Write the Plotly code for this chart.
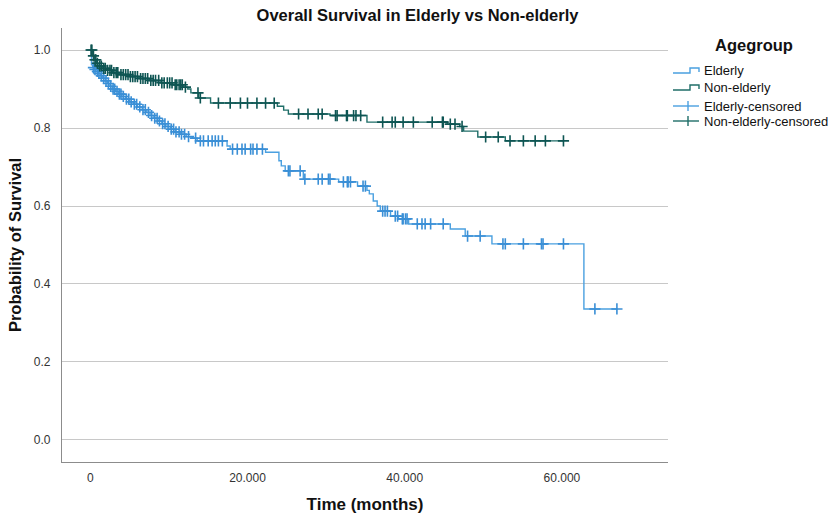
import numpy as np
import plotly.graph_objects as go

# Kaplan-Meier step data: event times (months) and survival after each event
elderly_t = [0.0, 0.15, 0.3, 0.5, 0.7, 1.0, 1.3, 1.6, 1.9, 2.2, 2.5, 2.8, 3.2, 3.6, 4.0,
             4.5, 5.0, 5.5, 6.0, 6.6, 7.1, 7.6, 8.1, 8.6, 9.1, 9.6, 10.2, 10.8, 11.4,
             12.2, 13.0, 13.6, 17.4, 17.8, 22.3, 24.0, 24.3, 24.8, 27.1, 31.6, 34.0,
             35.2, 35.5, 36.0, 36.5, 36.9, 38.2, 39.2, 40.5, 45.8, 47.7, 51.1, 62.8]
elderly_s = [1.0, 0.962, 0.955, 0.950, 0.945, 0.940, 0.934, 0.928, 0.921, 0.914, 0.907,
             0.900, 0.894, 0.887, 0.881, 0.874, 0.867, 0.861, 0.854, 0.847, 0.840, 0.832,
             0.825, 0.818, 0.811, 0.804, 0.797, 0.790, 0.784, 0.778, 0.774, 0.767, 0.754,
             0.746, 0.738, 0.716, 0.703, 0.690, 0.669, 0.662, 0.651, 0.640, 0.631, 0.613,
             0.600, 0.587, 0.574, 0.567, 0.554, 0.541, 0.523, 0.503, 0.336]
elderly_end = 67.0

elderly_cens = [0.4, 0.6, 0.9, 1.1, 1.4, 1.7, 2.0, 2.3, 2.6, 2.9, 3.1, 3.4, 3.7, 3.9, 4.2,
                4.6, 4.9, 5.2, 5.6, 5.9, 6.3, 6.7, 7.0, 7.4, 7.8, 8.2, 8.5, 8.8, 9.2, 9.5,
                9.9, 10.3, 10.6, 10.9, 11.3, 11.6, 12.0, 12.5, 13.4, 14.0, 14.4, 15.0, 15.5,
                15.9, 16.3, 16.8, 18.1, 18.7, 19.3, 19.7, 20.4, 20.7, 21.2, 21.9, 25.2,
                25.4, 26.7, 27.3, 29.0, 29.5, 30.3, 30.5, 32.2, 32.7, 32.8, 33.1, 34.7,
                35.0, 37.2, 37.5, 37.8, 38.8, 39.1, 39.7, 39.8, 40.1, 40.3, 41.6, 42.2,
                42.6, 43.3, 44.9, 48.0, 49.6, 52.5, 52.8, 55.1, 57.4, 57.6, 60.2, 64.2, 67.0]

nonelderly_t = [0.0, 0.3, 0.5, 0.8, 1.1, 1.5, 2.0, 2.8, 3.8, 5.0, 6.2, 7.5, 9.0, 10.5,
                11.8, 12.4, 12.8, 13.8, 15.3, 23.8, 24.6, 25.2, 30.5, 35.2, 45.4, 47.0,
                47.5, 49.3, 52.8]
nonelderly_s = [1.0, 0.985, 0.975, 0.966, 0.959, 0.953, 0.948, 0.942, 0.937, 0.932, 0.927,
                0.922, 0.916, 0.911, 0.905, 0.900, 0.890, 0.877, 0.864, 0.856, 0.846, 0.836,
                0.832, 0.815, 0.810, 0.804, 0.792, 0.777, 0.767]
nonelderly_end = 60.2

nonelderly_cens = [0.1, 0.2, 0.4, 0.6, 0.7, 0.9, 1.2, 1.4, 1.7, 1.9, 2.2, 2.5, 2.7, 3.0,
                   3.3, 3.5, 3.9, 4.2, 4.5, 4.8, 5.1, 5.4, 5.7, 6.0, 6.4, 6.7, 7.0, 7.3,
                   7.7, 8.0, 8.3, 8.7, 9.1, 9.4, 9.8, 10.1, 10.4, 10.8, 11.0, 11.3, 11.5,
                   11.7, 12.1, 13.7, 14.0, 16.3, 17.8, 19.1, 20.0, 21.2, 22.3, 23.4, 26.5,
                   27.7, 29.0, 29.5, 31.2, 31.4, 32.6, 32.7, 33.5, 33.8, 34.4, 37.2, 38.4,
                   38.8, 39.8, 41.1, 43.5, 44.8, 44.9, 45.8, 46.4, 47.3, 50.3, 51.9, 53.4,
                   55.1, 56.6, 57.9, 60.2]

x_ticks = [0, 20, 40, 60]
x_tick_text = ["0", "20.000", "40.000", "60.000"]
y_ticks = [0.0, 0.2, 0.4, 0.6, 0.8, 1.0]
y_tick_text = ["0.0", "0.2", "0.4", "0.6", "0.8", "1.0"]

legend_title = "Agegroup"
legend_labels = ["Elderly", "Non-elderly", "Elderly-censored", "Non-elderly-censored"]

ELD_LINE, ELD_MARK = "#4aa0e0", "#3a8fd6"
NON_LINE, NON_MARK = "#1f6e68", "#0e5553"
FONT = "Liberation Sans, Arial, sans-serif"

W, H = 835, 516
ML, MR, MT, MB = 62, 167, 28, 54
PW, PH = W - ML - MR, H - MT - MB


def surv_at(times, surv, t_query):
    idx = np.searchsorted(np.asarray(times), np.asarray(t_query), side="right") - 1
    return np.asarray(surv)[idx]


def step_xy(times, surv, t_end):
    return list(times) + [t_end], list(surv) + [surv[-1]]


# pixel -> paper helpers for the hand-built legend
def px(x):
    return (x - ML) / PW


def py(y):
    return (H - MB - y) / PH


fig = go.Figure()

ex, ey = step_xy(elderly_t, elderly_s, elderly_end)
nx, ny = step_xy(nonelderly_t, nonelderly_s, nonelderly_end)

fig.add_trace(go.Scatter(x=ex, y=ey, mode="lines", name=legend_labels[0],
                         line=dict(color=ELD_LINE, width=1.4, shape="hv")))
fig.add_trace(go.Scatter(x=nx, y=ny, mode="lines", name=legend_labels[1],
                         line=dict(color=NON_LINE, width=1.4, shape="hv")))

cross = dict(symbol="cross-thin", size=8)
fig.add_trace(go.Scatter(x=elderly_cens, y=surv_at(elderly_t, elderly_s, elderly_cens),
                         mode="markers", name=legend_labels[2],
                         marker=dict(**cross, color=ELD_MARK, line=dict(color=ELD_MARK, width=1.6))))
fig.add_trace(go.Scatter(x=nonelderly_cens, y=surv_at(nonelderly_t, nonelderly_s, nonelderly_cens),
                         mode="markers", name=legend_labels[3],
                         marker=dict(**cross, color=NON_MARK, line=dict(color=NON_MARK, width=1.6))))

# legend: step glyphs for the curves, line-with-tick glyphs for censored marks
shapes = []
annotations = []
row_y = [71, 88, 106, 121]
glyph_colors = [ELD_LINE, NON_LINE, ELD_LINE, NON_LINE]
for i, (label, yc, col) in enumerate(zip(legend_labels, row_y, glyph_colors)):
    if i < 2:
        path = (f"M {px(673)},{py(yc + 2)} L {px(690)},{py(yc + 2)} L {px(690)},{py(yc - 3)} "
                f"L {px(699)},{py(yc - 3)} L {px(699)},{py(yc + 1)}")
        shapes.append(dict(type="path", xref="paper", yref="paper", path=path,
                           line=dict(color=col, width=1.4)))
    else:
        shapes.append(dict(type="line", xref="paper", yref="paper", x0=px(673), x1=px(699),
                           y0=py(yc), y1=py(yc), line=dict(color=col, width=1.4)))
        shapes.append(dict(type="line", xref="paper", yref="paper", x0=px(688), x1=px(688),
                           y0=py(yc - 5), y1=py(yc + 5), line=dict(color=col, width=1.4)))
    annotations.append(dict(text=label, xref="paper", yref="paper", x=px(702), y=py(yc),
                            xanchor="left", yanchor="middle", showarrow=False,
                            font=dict(size=13, color="#111", family=FONT)))
annotations.append(dict(text=f"<b>{legend_title}</b>", xref="paper", yref="paper", x=px(754),
                        y=py(45), xanchor="center", yanchor="middle", showarrow=False,
                        font=dict(size=16.5, color="#111", family=FONT)))

fig.update_layout(
    width=W, height=H,
    margin=dict(l=ML, r=MR, t=MT, b=MB, autoexpand=False),
    paper_bgcolor="white", plot_bgcolor="white",
    font=dict(family=FONT, size=12, color="#222"),
    title=dict(text="<b>Overall Survival in Elderly vs Non-elderly</b>", x=0.5, xanchor="center",
               y=1 - 15 / H, yanchor="middle", font=dict(size=16.5, color="#111")),
    showlegend=False,
    shapes=shapes,
    annotations=annotations,
    xaxis=dict(range=[-3.6, 73.5], tickvals=x_ticks, ticktext=x_tick_text, showgrid=False,
               zeroline=False, showline=True, linecolor="#8c8c8c", linewidth=1.3,
               ticks="outside", ticklen=4, tickcolor="rgba(0,0,0,0)",
               tickfont=dict(size=12, color="#333"), automargin=False,
               title=dict(text="<b>Time (months)</b>", font=dict(size=17, color="#111"), standoff=14)),
    yaxis=dict(range=[-0.0565, 1.0565], tickvals=y_ticks, ticktext=y_tick_text, showgrid=True,
               gridcolor="#c8c8c8", gridwidth=1.2, zeroline=False, showline=True,
               linecolor="#8c8c8c", linewidth=1.3, ticks="outside", ticklen=8,
               tickcolor="rgba(0,0,0,0)", tickfont=dict(size=12, color="#333"), automargin=False,
               title=dict(text="<b>Probability of Survival</b>", font=dict(size=16.5, color="#111"),
                          standoff=7)),
)

fig.write_html("out.html")
